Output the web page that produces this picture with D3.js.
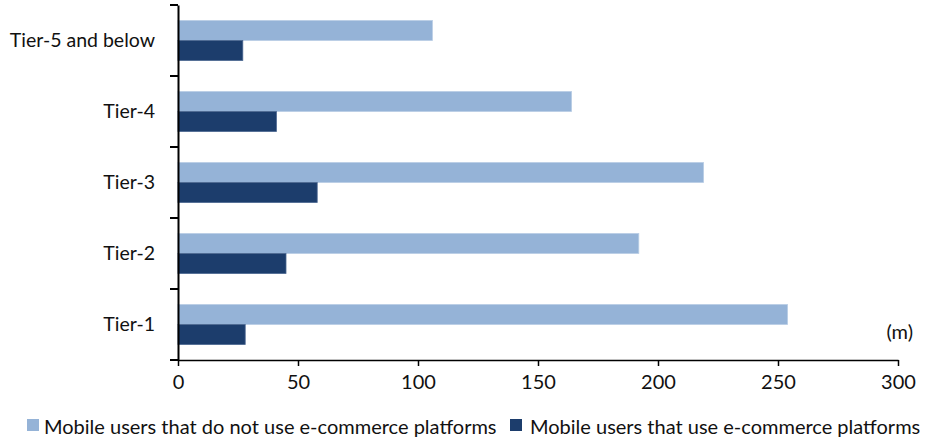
<!DOCTYPE html>
<html>
<head>
<meta charset="utf-8">
<script src="https://cdn.jsdelivr.net/npm/d3@7"></script>
<style>
  html, body { margin: 0; padding: 0; background: #ffffff; }
  svg { display: block; font-family: Lato, "Open Sans", sans-serif; }
</style>
</head>
<body>
<svg id="chart" width="930" height="439"></svg>
<script>
// Mobile users by city tier (millions)
const tiers = ["Tier-5 and below", "Tier-4", "Tier-3", "Tier-2", "Tier-1"];
const seriesNames = [
  "Mobile users that do not use e-commerce platforms",
  "Mobile users that use e-commerce platforms"
];
const nonUsers = [106, 164, 219, 192, 254];
const users = [27, 41, 58, 45, 28];
const xTicks = [0, 50, 100, 150, 200, 250, 300];
const unitLabel = "(m)";

const colors = ["#95b3d7", "#1c3d6c"];
const edgeColors = ["#b9cde5", "#4a6690"];
const fontSize = 20;

const svg = d3.select("#chart");
const plotLeft = 178, plotRight = 898, plotTop = 5, plotBottom = 360;

const x = d3.scaleLinear().domain([0, 300]).range([plotLeft, plotRight]);
const y = d3.scaleBand().domain(tiers).range([plotTop, plotBottom]).paddingInner(0).paddingOuter(0);
const ySub = d3.scaleBand().domain([0, 1]).range([0, y.bandwidth()]).paddingInner(0).paddingOuter(0.775);

const rows = tiers.map((t, i) => ({ tier: t, values: [nonUsers[i], users[i]] }));

// bars
const groups = svg.append("g").selectAll("g").data(rows).join("g")
  .attr("transform", d => `translate(0,${y(d.tier)})`);
groups.selectAll("rect")
  .data(d => d.values.map((v, k) => ({ v, k })))
  .join("rect")
  .attr("x", x(0))
  .attr("y", d => ySub(d.k))
  .attr("width", d => x(d.v) - x(0))
  .attr("height", ySub.bandwidth())
  .attr("fill", d => colors[d.k])
  .attr("stroke", d => edgeColors[d.k])
  .attr("stroke-width", 0.8);

// x axis
const xAxis = svg.append("g")
  .attr("transform", `translate(0,${plotBottom})`)
  .call(d3.axisBottom(x).tickValues(xTicks).tickSize(6).tickPadding(9).tickSizeOuter(0));
xAxis.select(".domain").attr("stroke", "#000").attr("stroke-width", 1.5);
xAxis.selectAll(".tick line").attr("stroke", "#000").attr("stroke-width", 1.5);
xAxis.selectAll(".tick text").attr("font-size", fontSize).attr("fill", "#111").attr("font-family", "Lato, sans-serif");

// y axis: labels at band centres, tick marks at band boundaries
const yAxis = svg.append("g")
  .attr("transform", `translate(${plotLeft},0)`)
  .call(d3.axisLeft(y).tickSize(0).tickPadding(23));
yAxis.select(".domain").attr("stroke", "#000").attr("stroke-width", 2);
yAxis.selectAll(".tick text").attr("font-size", 19.5).attr("fill", "#111").attr("font-family", "Lato, sans-serif");

const boundaries = tiers.map(t => y(t)).concat([y(tiers[tiers.length - 1]) + y.step()]);
yAxis.append("g").selectAll("line").data(boundaries).join("line")
  .attr("x1", -8).attr("x2", 0)
  .attr("y1", d => d).attr("y2", d => d)
  .attr("stroke", "#000").attr("stroke-width", 2);

// unit label
svg.append("text")
  .attr("x", 913).attr("y", 339)
  .attr("text-anchor", "end")
  .attr("font-size", fontSize).attr("fill", "#111")
  .text(unitLabel);

// legend
const legendX = [27, 510];
const legend = svg.append("g").selectAll("g").data(seriesNames).join("g")
  .attr("transform", (d, i) => `translate(${legendX[i]},419)`);
legend.append("rect")
  .attr("width", 12).attr("height", 12)
  .attr("fill", (d, i) => colors[i]);
legend.append("text")
  .attr("x", (d, i) => i === 0 ? 17 : 20)
  .attr("y", 14.5)
  .attr("font-size", fontSize).attr("fill", "#111")
  .text(d => d);
</script>
</body>
</html>
